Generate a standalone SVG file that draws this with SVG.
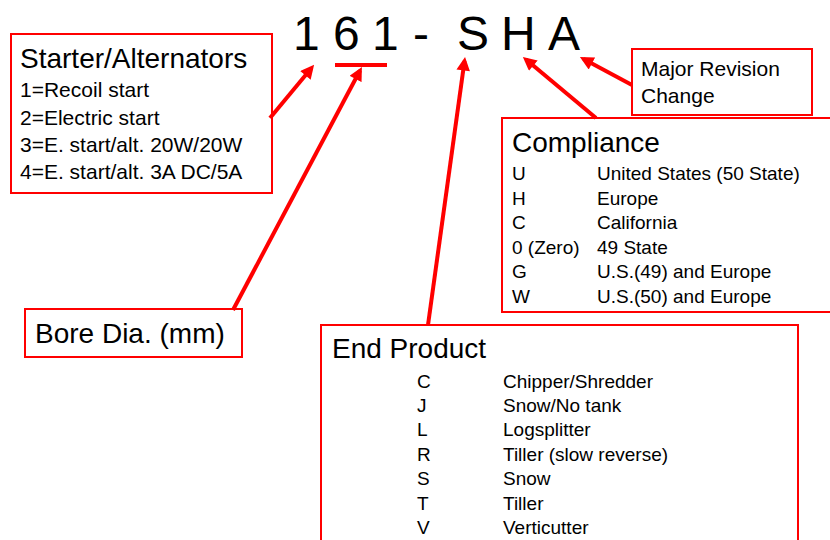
<svg xmlns="http://www.w3.org/2000/svg" width="830" height="540" viewBox="0 0 830 540">
<defs>
<style>
text{font-family:"Liberation Sans",Arial,sans-serif;fill:#000}
.big{font-size:48px}
.title{font-size:28px}
.item{font-size:21px}
.row{font-size:19px}
.box{fill:#fff;stroke:#ff0000;stroke-width:2}
.conn{stroke:#ff0000;stroke-width:4;fill:none}
</style>
<marker id="ah" viewBox="0 0 10 10" refX="7" refY="5" markerWidth="3.6" markerHeight="3.4" orient="auto" markerUnits="strokeWidth">
<path d="M0,0 L10,5 L0,10 z" fill="#ff0000"/>
</marker>
</defs>
<rect width="830" height="540" fill="#fff"/>
<g id="code">
<text class="big" x="293" y="50">1</text>
<text class="big" x="333" y="50">6</text>
<text class="big" x="372" y="50">1</text>
<text class="big" x="413" y="50">-</text>
<text class="big" x="457" y="50">S</text>
<text class="big" x="501" y="50">H</text>
<text class="big" x="548" y="50">A</text>
<line x1="335" y1="65" x2="387" y2="65" stroke="#ff0000" stroke-width="4"/>
</g>
<g id="starter">
<rect class="box" x="11" y="34" width="261" height="159"/>
<text class="title" x="20" y="68">Starter/Alternators</text>
<text class="item" x="20" y="97">1=Recoil start</text>
<text class="item" x="20" y="125">2=Electric start</text>
<text class="item" x="20" y="152">3=E. start/alt. 20W/20W</text>
<text class="item" x="20" y="179">4=E. start/alt. 3A DC/5A</text>
</g>
<g id="revision">
<rect class="box" x="632" y="49" width="180" height="66"/>
<text class="item" x="641" y="76">Major Revision</text>
<text class="item" x="641" y="103">Change</text>
</g>
<g id="compliance">
<rect class="box" x="502" y="118" width="340" height="194"/>
<text class="title" x="512" y="152">Compliance</text>
<text class="row" x="512" y="180">U</text><text class="row" x="597" y="180">United States (50 State)</text>
<text class="row" x="512" y="205">H</text><text class="row" x="597" y="205">Europe</text>
<text class="row" x="512" y="229">C</text><text class="row" x="597" y="229">California</text>
<text class="row" x="512" y="254">0 (Zero)</text><text class="row" x="597" y="254">49 State</text>
<text class="row" x="512" y="278">G</text><text class="row" x="597" y="278">U.S.(49) and Europe</text>
<text class="row" x="512" y="303">W</text><text class="row" x="597" y="303">U.S.(50) and Europe</text>
</g>
<g id="bore">
<rect class="box" x="25" y="309" width="217" height="48"/>
<text class="title" x="35" y="343">Bore Dia. (mm)</text>
</g>
<g id="endproduct">
<rect class="box" x="321" y="325" width="477" height="230"/>
<text class="title" x="332" y="358">End Product</text>
<text class="row" x="417" y="388">C</text><text class="row" x="503" y="388">Chipper/Shredder</text>
<text class="row" x="417" y="412">J</text><text class="row" x="503" y="412">Snow/No tank</text>
<text class="row" x="417" y="436">L</text><text class="row" x="503" y="436">Logsplitter</text>
<text class="row" x="417" y="461">R</text><text class="row" x="503" y="461">Tiller (slow reverse)</text>
<text class="row" x="417" y="485">S</text><text class="row" x="503" y="485">Snow</text>
<text class="row" x="417" y="510">T</text><text class="row" x="503" y="510">Tiller</text>
<text class="row" x="417" y="534">V</text><text class="row" x="503" y="534">Verticutter</text>
</g>
<g id="connectors">
<line class="conn" x1="270" y1="118" x2="311.5" y2="68" marker-end="url(#ah)"/>
<line class="conn" x1="233" y1="310" x2="360" y2="70.5" marker-end="url(#ah)"/>
<line class="conn" x1="428" y1="325" x2="464.5" y2="61" marker-end="url(#ah)"/>
<line class="conn" x1="596" y1="118" x2="526" y2="59.5" marker-end="url(#ah)"/>
<line class="conn" x1="632" y1="85" x2="583.5" y2="59" marker-end="url(#ah)"/>
</g>
</svg>
